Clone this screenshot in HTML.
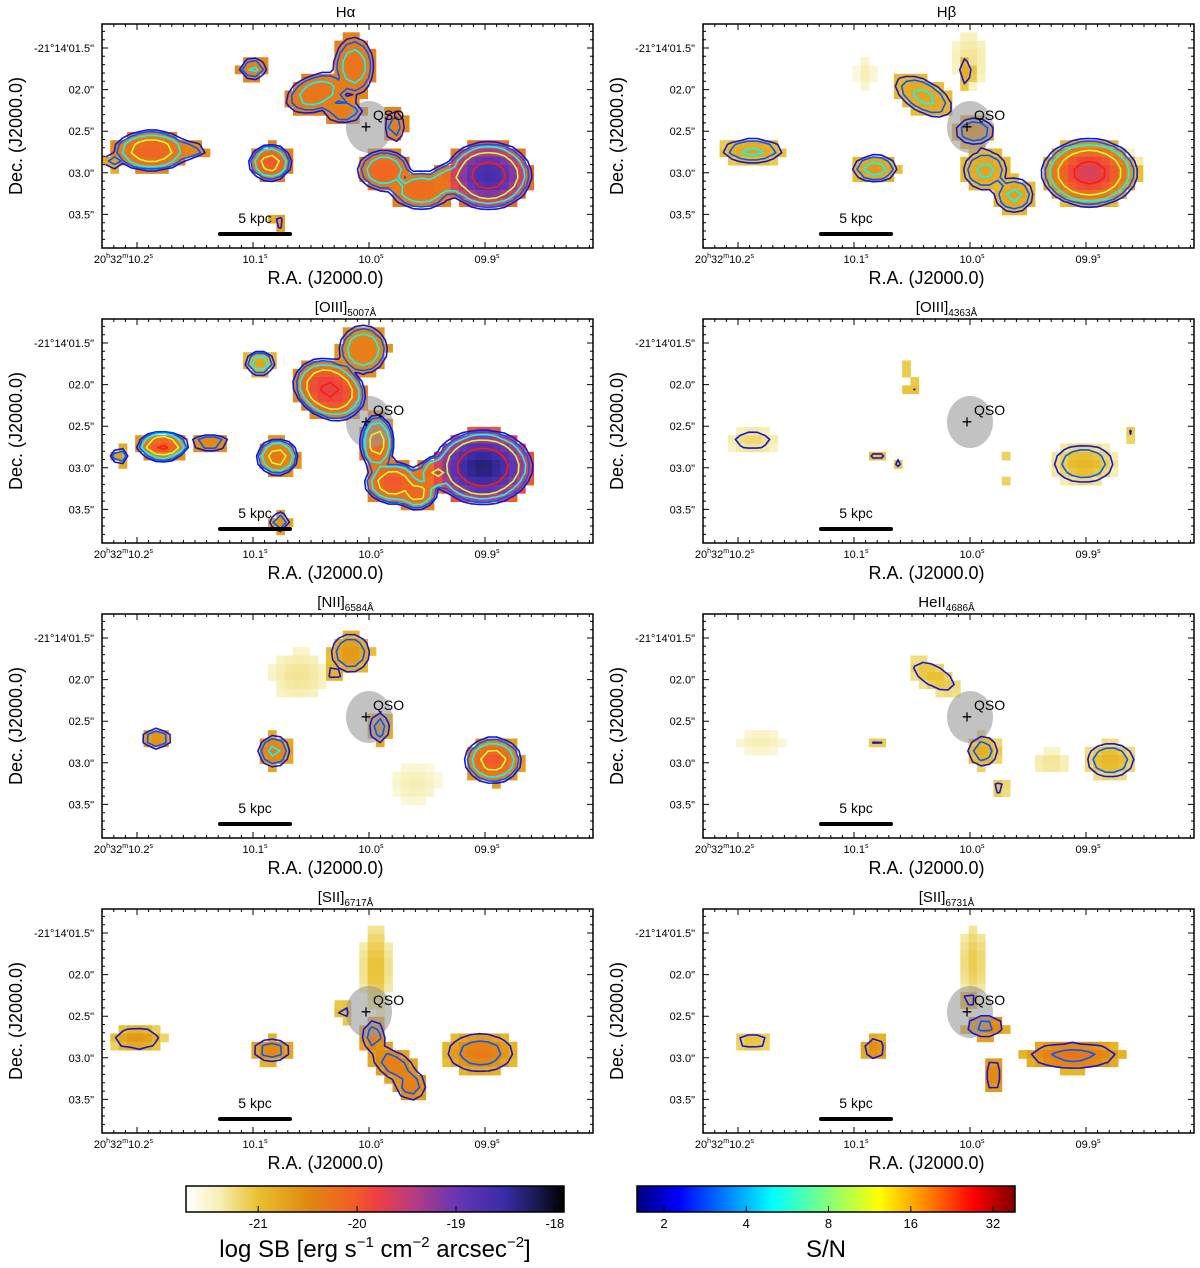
<!DOCTYPE html>
<html><head><meta charset="utf-8">
<style>
html,body{margin:0;padding:0;background:#fff;}
svg{display:block;font-family:"Liberation Sans","DejaVu Sans",sans-serif;}
</style></head>
<body>
<svg id="fig" width="1200" height="1268" viewBox="0 0 1200 1268" xmlns="http://www.w3.org/2000/svg">
<defs>
<linearGradient id="sbgrad" x1="0" x2="1" y1="0" y2="0">
<stop offset="0" stop-color="#ffffff"/><stop offset="0.09" stop-color="#f6efb4"/>
<stop offset="0.19" stop-color="#e8c030"/><stop offset="0.32" stop-color="#e08a10"/>
<stop offset="0.45" stop-color="#f25a28"/><stop offset="0.5" stop-color="#f04040"/>
<stop offset="0.6" stop-color="#b83c80"/><stop offset="0.71" stop-color="#6a36b4"/>
<stop offset="0.84" stop-color="#3a2ca8"/><stop offset="0.92" stop-color="#1c1c5a"/>
<stop offset="1" stop-color="#000000"/></linearGradient>
<linearGradient id="sngrad" x1="0" x2="1" y1="0" y2="0">
<stop offset="0" stop-color="#00007f"/><stop offset="0.11" stop-color="#0000ff"/>
<stop offset="0.36" stop-color="#00ffff"/><stop offset="0.5" stop-color="#7fff7f"/>
<stop offset="0.64" stop-color="#ffff00"/><stop offset="0.76" stop-color="#ff8c00"/>
<stop offset="0.89" stop-color="#ff0000"/><stop offset="1" stop-color="#7f0000"/></linearGradient>
</defs>
</svg>
<script>
// ---- data (clump: ra[s], dec[arcsec], rx["], ry["], angle[deg], peak logSB, edge logSB, peak S/N) ----
const panelTitles = ["H\u03b1","H\u03b2","[OIII]|5007\u00c5","[OIII]|4363\u00c5","[NII]|6584\u00c5","HeII|4686\u00c5","[SII]|6717\u00c5","[SII]|6731\u00c5"];
const raTicks = [10.2, 10.1, 10.0, 9.9];
const raTickLabels = ["20h32m10.2s","10.1s","10.0s","09.9s"];
const decTicks = [1.5, 2.0, 2.5, 3.0, 3.5];
const decTickLabels = ["-21\u00b014'01.5\"","02.0\"","02.5\"","03.0\"","03.5\""];
const sbTicks = [-21, -20, -19, -18];
const snTicks = [2, 4, 8, 16, 32];
const clumpsHa = [
 [10.221,2.855,0.12,0.12,0,-20.7,-20.9,4],[10.1875,2.735,0.48,0.25,0,-20.0,-20.5,20],[10.156,2.735,0.24,0.12,0,-20.4,-20.6,5],
 [10.100,1.75,0.18,0.14,0,-20.3,-20.5,6],[10.085,2.88,0.27,0.23,0,-19.9,-20.4,15],[10.078,3.6,0.09,0.09,0,-20.6,-20.8,3],
 [10.045,2.04,0.42,0.24,-20,-20.2,-20.4,8],[10.013,1.72,0.26,0.38,0,-20.2,-20.4,8],[10.022,2.26,0.26,0.16,0,-20.3,-20.5,5],
 [9.978,2.44,0.14,0.22,0,-20.3,-20.5,4],[9.987,2.97,0.34,0.26,0,-20.0,-20.4,10],[9.955,3.21,0.4,0.24,0,-20.1,-20.4,10],
 [9.929,3.09,0.32,0.21,0,-20.2,-20.4,10],[9.897,3.03,0.54,0.42,0,-18.6,-20.3,40]];
const clumpsHb = [
 [10.237,2.79,0.08,0.08,0,-21.0,-21.1,3],[10.1875,2.735,0.4,0.16,0,-20.7,-21.1,6],[10.082,2.95,0.29,0.18,0,-20.6,-21.0,7],
 [10.04,2.08,0.42,0.21,30,-20.7,-21.0,6],[10.004,1.78,0.1,0.2,0,-20.8,-21.1,3],[10.0,1.65,0.2,0.35,0,-21.3,-21.5,1],
 [10.09,1.8,0.12,0.2,0,-21.4,-21.6,1],[9.996,2.5,0.26,0.18,0,-20.4,-20.9,5],[9.987,2.97,0.29,0.26,0,-20.7,-21.0,6],
 [9.962,3.27,0.26,0.23,0,-20.7,-21.0,6],[9.897,3.0,0.6,0.42,0,-19.6,-21.0,35],[9.86,2.9,0.15,0.15,0,-21.3,-21.5,1]];
const clumpsO3a = [
 [10.178,2.74,0.32,0.17,0,-19.9,-20.6,30],[10.137,2.7,0.27,0.09,0,-20.4,-20.6,6],[10.215,2.86,0.11,0.11,0,-20.6,-20.8,6],
 [10.094,1.74,0.19,0.16,0,-20.7,-20.9,8],[10.079,2.87,0.26,0.23,0,-20.2,-20.6,15],[10.077,3.65,0.13,0.13,0,-20.6,-20.8,5],
 [10.034,2.06,0.47,0.36,25,-19.7,-20.5,30],[10.005,1.58,0.31,0.31,0,-20.3,-20.6,10],[9.993,2.7,0.21,0.36,0,-20.0,-20.4,15],
 [9.979,3.18,0.36,0.26,0,-19.9,-20.4,20],[9.959,3.3,0.26,0.21,0,-20.0,-20.4,15],[9.941,3.06,0.26,0.21,0,-20.0,-20.4,12],
 [9.902,2.99,0.62,0.46,0,-18.3,-20.0,60]];
const clumpsO3b = [
 [9.902,2.95,0.4,0.26,0,-20.9,-21.4,5],[10.058,1.81,0.07,0.07,0,-21.0,-21.1,3],[10.051,2.02,0.08,0.08,0,-20.9,-21.1,3],
 [10.08,2.86,0.12,0.09,0,-21.0,-21.2,3],[10.062,2.93,0.07,0.07,0,-21.0,-21.2,3],[9.972,2.9,0.07,0.07,0,-21.0,-21.2,3],
 [9.972,3.2,0.07,0.07,0,-21.0,-21.2,3],[10.1875,2.67,0.32,0.16,0,-21.2,-21.5,2.5],[9.86,2.6,0.07,0.07,0,-21.0,-21.2,3]];
const clumpsN2 = [
 [10.183,2.71,0.2,0.14,0,-20.5,-20.9,5],[10.082,2.86,0.21,0.21,0,-20.3,-20.8,6],[10.016,1.68,0.26,0.26,0,-20.6,-21.0,5],
 [10.03,1.92,0.1,0.1,0,-20.8,-21.0,3],[9.991,2.58,0.14,0.21,0,-20.5,-20.9,4],[9.893,2.97,0.36,0.29,0,-19.9,-20.7,15],
 [10.06,1.95,0.35,0.3,0,-21.3,-21.5,1],[9.96,3.25,0.3,0.25,0,-21.4,-21.6,1]];
const clumpsHe = [
 [10.031,1.96,0.36,0.16,30,-21.0,-21.3,3],[9.989,2.86,0.21,0.21,0,-20.8,-21.2,4],[9.879,2.97,0.32,0.23,0,-20.9,-21.3,5],
 [10.08,2.75,0.07,0.07,0,-21.0,-21.2,3],[9.975,3.3,0.12,0.1,0,-21.0,-21.3,2.5],[10.18,2.75,0.3,0.15,0,-21.4,-21.6,1],
 [9.93,3.0,0.25,0.15,0,-21.3,-21.5,1]];
const clumpsS2a = [
 [10.2,2.77,0.34,0.17,0,-20.6,-21.2,3],[10.084,2.91,0.26,0.16,0,-20.4,-20.9,4],[9.994,1.92,0.18,0.56,0,-21.0,-21.4,1],
 [9.996,2.74,0.16,0.22,0,-20.3,-20.8,4],[9.978,3.09,0.36,0.19,35,-20.3,-20.8,4],[9.964,3.33,0.21,0.21,0,-20.3,-20.8,4],
 [9.904,2.94,0.46,0.27,0,-20.3,-21.0,4],[10.022,2.45,0.09,0.14,0,-20.9,-21.1,2.5]];
const clumpsS2b = [
 [10.1875,2.8,0.26,0.13,0,-21.0,-21.3,2.5],[10.082,2.89,0.16,0.16,0,-20.5,-20.9,3],[9.987,2.62,0.26,0.16,0,-20.3,-20.8,3.5],
 [9.98,3.21,0.13,0.23,0,-20.4,-20.8,3],[9.911,2.97,0.62,0.19,0,-20.2,-20.9,3.5],[9.997,1.84,0.16,0.46,0,-21.1,-21.4,1],
 [10.0,2.3,0.12,0.12,0,-20.7,-21.0,2.5]];
const panelClumps = [clumpsHa,clumpsHb,clumpsO3a,clumpsO3b,clumpsN2,clumpsHe,clumpsS2a,clumpsS2b];
const snLevels = [2,3,5,10,25];

// ---- drawing ----
const NS="http://www.w3.org/2000/svg";
const svg=document.getElementById('fig');
function mk(tag,attrs,parent){const e=document.createElementNS(NS,tag);for(const k in attrs)e.setAttribute(k,attrs[k]);(parent||svg).appendChild(e);return e;}
const sbStops=[[-21.73,[255,255,255]],[-21.4,[246,239,180]],[-21.0,[232,192,48]],[-20.5,[226,140,18]],[-20.0,[240,100,34]],[-19.8,[240,70,60]],[-19.4,[184,60,128]],[-19.0,[106,54,180]],[-18.5,[58,44,168]],[-18.2,[28,28,90]],[-17.9,[0,0,0]]];
function sbColor(v){if(v<=sbStops[0][0])return 'rgb(255,255,255)';for(let i=1;i<sbStops.length;i++){if(v<=sbStops[i][0]){const a=sbStops[i-1],b=sbStops[i];const t=(v-a[0])/(b[0]-a[0]);const c=a[1].map((x,j)=>Math.round(x+(b[1][j]-x)*t));return `rgb(${c})`;}}return 'rgb(0,0,0)';}
const jet=[[0,[0,0,127]],[0.11,[0,0,255]],[0.36,[0,255,255]],[0.5,[127,255,127]],[0.64,[255,255,0]],[0.76,[255,140,0]],[0.89,[255,0,0]],[1,[127,0,0]]];
function snColor(s){let t=(Math.log2(s)-Math.log2(1.6))/(Math.log2(38.6)-Math.log2(1.6));t=Math.max(0,Math.min(1,t));for(let i=1;i<jet.length;i++){if(t<=jet[i][0]){const a=jet[i-1],b=jet[i];const u=(t-a[0])/(b[0]-a[0]);const c=a[1].map((x,j)=>Math.round(x+(b[1][j]-x)*u));return `rgb(${c})`;}}return 'rgb(127,0,0)';}

const PW=491,PH=224,CELL=8.3;
for(let p=0;p<8;p++){
 const col=p%2,row=Math.floor(p/2);
 const x0=col?703:102, y0=24+295*row;
 const xOf=ra=>x0+267+(10.0-ra)*1160;
 const yOf=dec=>y0+24+(dec-1.5)*83.2;
 const g=mk('g',{});
 
 
 const cid='clip'+p;
 const cp=mk('clipPath',{id:cid},g);mk('rect',{x:x0,y:y0,width:PW,height:PH},cp);
 const cells=mk('g',{'clip-path':`url(#${cid})`},g);
 
 
 const nc=Math.ceil(PW/CELL)+1,nr=Math.ceil(PH/CELL)+1;
 const sbG=[],snG=[];
 const cl=panelClumps[p];
 for(let r=0;r<nr;r++){sbG.push([]);snG.push([]);
  for(let c=0;c<nc;c++){
   const px=x0+(c+0.5)*CELL, py=y0+(r+0.5)*CELL;
   const ra=10.0-(px-x0-267)/1160, dec=1.5+(py-y0-24)/83.2;
   let sb=-99,sn=0;
   for(const k of cl){
    const dx=(ra-k[0])*-13.98, dy=(dec-k[1]);
    const a=k[4]*Math.PI/180;
    const u=dx*Math.cos(a)+dy*Math.sin(a), v=-dx*Math.sin(a)+dy*Math.cos(a);
    const d2=(u/k[2])**2+(v/k[3])**2;
    if(d2<1.25){const f=1-d2;if(d2<1){const s=k[6]+(k[5]-k[6])*f;if(s>sb)sb=s;}
     const n=k[7]>1?1.5*Math.pow(k[7]/1.5,f):0;if(n>sn)sn=n;}
   }
   sbG[r].push(sb);snG[r].push(sn);
   if(sb>-99){mk('rect',{x:(x0+c*CELL).toFixed(1),y:(y0+r*CELL).toFixed(1),width:CELL+0.4,height:CELL+0.4,fill:sbColor(sb)},cells);}
  }}
 const qx=xOf(10.0),qy=yOf(2.45);
 const q=mk('ellipse',{cx:qx,cy:qy,rx:23,ry:26,fill:'#9a9a9a','fill-opacity':0.6},g);
 
 
 // contours via marching squares
 const cg=mk('g',{'clip-path':`url(#${cid})`,fill:'none','stroke-width':1.6,'stroke-linejoin':'round'},g);
 
 
 const cx=c=>x0+(c+0.5)*CELL, cy=r=>y0+(r+0.5)*CELL;
 for(const lv of snLevels){
  let d='';
  for(let r=0;r<nr-1;r++)for(let c=0;c<nc-1;c++){
   const A=snG[r][c],B=snG[r][c+1],C=snG[r+1][c+1],D=snG[r+1][c];
   const pts=[];
   const it=(v1,v2)=>(lv-v1)/(v2-v1);
   if((A>=lv)!==(B>=lv))pts.push([cx(c)+CELL*it(A,B),cy(r)]);
   if((B>=lv)!==(C>=lv))pts.push([cx(c+1),cy(r)+CELL*it(B,C)]);
   if((D>=lv)!==(C>=lv))pts.push([cx(c)+CELL*it(D,C),cy(r+1)]);
   if((A>=lv)!==(D>=lv))pts.push([cx(c),cy(r)+CELL*it(A,D)]);
   for(let i=0;i+1<pts.length;i+=2)d+=`M${pts[i][0].toFixed(1)},${pts[i][1].toFixed(1)}L${pts[i+1][0].toFixed(1)},${pts[i+1][1].toFixed(1)}`;
  }
  if(d){const pa=mk('path',{d:d,stroke:lv==2?'#1515d8':snColor(lv),'stroke-linecap':'round'},cg);
   
   }
 }
 const plus=mk('text',{x:qx-3,y:qy+6,'font-size':18,'text-anchor':'middle'},g);plus.textContent='+';
 
 
 const ql=mk('text',{x:qx+4,y:qy-7,'font-size':14},g);ql.textContent='QSO';
 
 
 const sbar=mk('line',{x1:x0+118,x2:x0+188,y1:y0+210,y2:y0+210,stroke:'#000','stroke-width':4,'stroke-linecap':'round'},g);
 
 
 const st=mk('text',{x:x0+153,y:y0+199,'font-size':14,'text-anchor':'middle'},g);st.textContent='5 kpc';
 
 
 const fr=mk('rect',{x:x0,y:y0,width:PW,height:PH,fill:'none',stroke:'#000','stroke-width':1.5},g);
 
 
 let td='';
 for(let ra=10.24;ra>=9.80;ra-=0.01){const x=xOf(ra);if(x<x0||x>x0+PW)continue;const maj=raTicks.some(t=>Math.abs(t-ra)<0.002);const L=maj?6:3;td+=`M${x.toFixed(1)},${y0+PH}v${-L}M${x.toFixed(1)},${y0}v${L}`;}
 for(let dec=1.2;dec<=3.9;dec+=0.1){const y=yOf(dec);if(y<y0||y>y0+PH)continue;const maj=decTicks.some(t=>Math.abs(t-dec)<0.01);const L=maj?6:3;td+=`M${x0},${y.toFixed(1)}h${L}M${x0+PW},${y.toFixed(1)}h${-L}`;}
 const tk=mk('path',{d:td,stroke:'#000','stroke-width':1},g);
 
 
 raTicks.forEach((t,i)=>{const lab=raTickLabels[i];const tx=mk('text',{x:xOf(t)+2,y:y0+PH+15,'font-size':11,'text-anchor':'middle'},g);
  if(i==0){tx.setAttribute('x',xOf(t)+16);tx.setAttribute('text-anchor','end');tx.innerHTML='20<tspan font-size="7" dy="-5">h</tspan><tspan dy="5">32</tspan><tspan font-size="7" dy="-5">m</tspan><tspan dy="5">10.2</tspan><tspan font-size="7" dy="-5">s</tspan>';}
  else{tx.innerHTML=lab.slice(0,-1)+'<tspan font-size="7" dy="-5">s</tspan>';}
  
  });
 decTicks.forEach((t,i)=>{const tx=mk('text',{x:x0-8,y:yOf(t)+4,'font-size':11,'text-anchor':'end'},g);tx.textContent=decTickLabels[i];
  
  });
 const xl=mk('text',{x:x0+PW/2-22,y:y0+PH+36,'font-size':18,'text-anchor':'middle'},g);xl.textContent='R.A. (J2000.0)';
 
 
 const yx=x0-80,yy=y0+PH/2;
 const yl=mk('text',{x:yx,y:yy,'font-size':18,'text-anchor':'middle',transform:`rotate(-90 ${yx} ${yy})`},g);yl.textContent='Dec. (J2000.0)';
 
 
 const tp=panelTitles[p].split('|');
 const tt=mk('text',{x:x0+PW/2-2,y:y0-7,'font-size':15,'text-anchor':'middle'},g);
 tt.textContent=tp[0];
 if(tp[1]){const ts=mk('tspan',{'font-size':10,dy:4},tt);ts.textContent=tp[1];}
 
 
}
function colorbar(x,w,grad,ticks,posFn,label,name){
 const g=mk('g',{});
 
 
 mk('rect',{x:x,y:1186,width:w,height:26,fill:`url(#${grad})`,stroke:'#000','stroke-width':1.5},g);
 ticks.forEach(t=>{const tx=posFn(t);mk('line',{x1:tx,x2:tx,y1:1212,y2:1206,stroke:'#000'},g);
  const lt=mk('text',{x:tx,y:1228,'font-size':13,'text-anchor':'middle'},g);lt.textContent=String(t);});
 const lb=mk('text',{x:x+w/2,y:1257,'font-size':24,'text-anchor':'middle'},g);lb.innerHTML=label;
}
colorbar(186,378,'sbgrad',sbTicks,v=>186+(v+21.73)*98.9,'log SB [erg s<tspan font-size="15" dy="-10">\u22121</tspan><tspan dy="10"> cm</tspan><tspan font-size="15" dy="-10">\u22122</tspan><tspan dy="10"> arcsec</tspan><tspan font-size="15" dy="-10">\u22122</tspan><tspan dy="10">]</tspan>','sb-colorbar');
colorbar(637,378,'sngrad',snTicks,v=>664+Math.log2(v/2)*82.25,'S/N','sn-colorbar');
</script>
</body></html>
